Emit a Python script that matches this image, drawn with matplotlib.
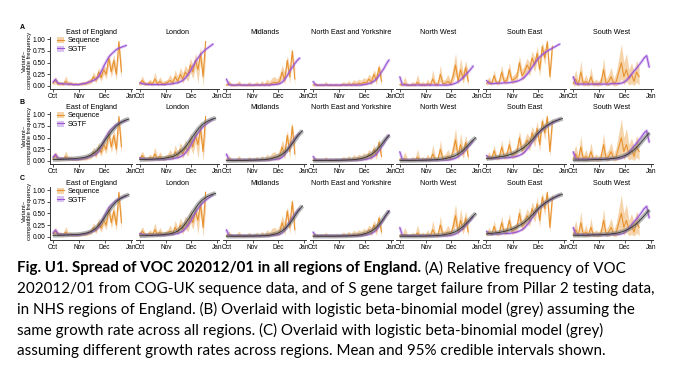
import numpy as np
import matplotlib
matplotlib.use("Agg")
import matplotlib.pyplot as plt
import matplotlib.transforms as mtransforms
from matplotlib.patches import Patch
from matplotlib.lines import Line2D

nan = np.nan

regions = ["East of England", "London", "Midlands", "North East and Yorkshire",
           "North West", "South East", "South West"]
month_ticks = [0, 31, 61, 92]
month_labels = ["Oct", "Nov", "Dec", "Jan"]
y_ticks = [0, 0.25, 0.5, 0.75, 1.0]
y_labels = ["0.00", "0.25", "0.50", "0.75", "1.00"]

# days since 1 Oct
seq_days = list(range(0, 82, 3))
seq_mean = [
    [0.06, 0.12, 0.04, 0.05, 0.03, 0.10, 0.04, 0.05, 0.03, 0.04, 0.03, 0.04, 0.05, 0.05,
     0.08, 0.10, 0.20, 0.12, 0.30, 0.18, 0.35, 0.25, 0.60, 0.30, 0.55, 0.25, 0.95, 0.30],
    [0.04, 0.12, 0.05, 0.03, 0.08, 0.04, 0.15, 0.05, 0.10, 0.04, 0.06, 0.08, 0.12, 0.07,
     0.20, 0.10, 0.25, 0.15, 0.30, 0.22, 0.45, 0.30, 0.55, 0.35, 0.70, 0.20, 0.95, nan],
    [0.02, 0.05, 0.02, 0.01, 0.02, 0.04, 0.01, 0.02, 0.01, 0.03, 0.01, 0.02, 0.03, 0.01,
     0.04, 0.02, 0.05, 0.03, 0.06, 0.08, 0.06, 0.10, 0.30, 0.12, 0.55, 0.20, 0.75, 0.15],
    [0.02, 0.03, 0.01, 0.02, 0.01, 0.03, 0.01, 0.02, 0.01, 0.02, 0.01, 0.02, 0.03, 0.02,
     0.04, 0.02, 0.05, 0.03, 0.06, 0.04, 0.08, 0.06, 0.15, 0.08, 0.25, 0.12, 0.40, 0.10],
    [0.03, 0.02, 0.05, 0.02, 0.01, 0.03, 0.02, 0.08, 0.02, 0.03, 0.02, 0.05, 0.02, 0.15,
     0.04, 0.03, 0.25, 0.05, 0.06, 0.10, 0.05, 0.20, 0.45, 0.10, 0.35, 0.15, 0.40, 0.10],
    [0.05, 0.10, 0.05, 0.22, 0.06, 0.08, 0.30, 0.10, 0.12, 0.35, 0.12, 0.15, 0.20, 0.50,
     0.22, 0.30, 0.45, 0.35, 0.60, 0.45, 0.70, 0.35, 0.85, 0.60, 0.95, 0.20, 0.85, nan],
    [0.05, 0.15, 0.03, 0.30, 0.05, 0.10, 0.04, 0.20, 0.03, 0.05, 0.04, 0.08, 0.35, 0.05,
     0.10, 0.20, 0.05, 0.10, 0.30, 0.50, 0.20, 0.35, 0.15, 0.25, 0.10, 0.30, 0.20, nan],
]
seq_lo = [
    [0.02, 0.05, 0.01, 0.02, 0.01, 0.04, 0.01, 0.02, 0.01, 0.01, 0.01, 0.02, 0.02, 0.02,
     0.04, 0.05, 0.12, 0.07, 0.20, 0.10, 0.25, 0.15, 0.45, 0.18, 0.40, 0.12, 0.70, 0.15],
    [0.01, 0.04, 0.01, 0.01, 0.03, 0.01, 0.05, 0.01, 0.03, 0.01, 0.02, 0.03, 0.05, 0.02,
     0.10, 0.04, 0.15, 0.06, 0.18, 0.10, 0.30, 0.15, 0.40, 0.05, 0.55, 0.00, 0.60, nan],
    [0.00, 0.01, 0.00, 0.00, 0.00, 0.01, 0.00, 0.00, 0.00, 0.00, 0.00, 0.00, 0.01, 0.00,
     0.01, 0.00, 0.01, 0.00, 0.02, 0.03, 0.02, 0.04, 0.15, 0.04, 0.40, 0.05, 0.60, 0.00],
    [0.00, 0.00, 0.00, 0.00, 0.00, 0.01, 0.00, 0.00, 0.00, 0.00, 0.00, 0.00, 0.01, 0.00,
     0.01, 0.00, 0.01, 0.00, 0.02, 0.01, 0.03, 0.02, 0.08, 0.02, 0.15, 0.03, 0.30, 0.00],
    [0.00, 0.00, 0.01, 0.00, 0.00, 0.00, 0.00, 0.02, 0.00, 0.00, 0.00, 0.01, 0.00, 0.05,
     0.00, 0.00, 0.10, 0.01, 0.01, 0.03, 0.01, 0.08, 0.25, 0.03, 0.20, 0.05, 0.25, 0.00],
    [0.02, 0.04, 0.02, 0.10, 0.02, 0.03, 0.15, 0.04, 0.05, 0.20, 0.05, 0.07, 0.10, 0.35,
     0.12, 0.18, 0.30, 0.22, 0.45, 0.30, 0.55, 0.20, 0.70, 0.45, 0.85, 0.08, 0.70, nan],
    [0.00, 0.02, 0.00, 0.05, 0.00, 0.01, 0.00, 0.03, 0.00, 0.00, 0.00, 0.01, 0.08, 0.00,
     0.01, 0.04, 0.00, 0.01, 0.05, 0.15, 0.03, 0.10, 0.02, 0.05, 0.01, 0.08, 0.02, nan],
]
seq_hi = [
    [0.12, 0.20, 0.10, 0.10, 0.08, 0.22, 0.10, 0.10, 0.08, 0.08, 0.07, 0.08, 0.10, 0.10,
     0.14, 0.17, 0.30, 0.20, 0.40, 0.28, 0.45, 0.38, 0.70, 0.45, 0.68, 0.40, 1.00, 0.50],
    [0.10, 0.22, 0.10, 0.08, 0.15, 0.10, 0.30, 0.10, 0.20, 0.10, 0.12, 0.15, 0.25, 0.14,
     0.35, 0.20, 0.40, 0.28, 0.45, 0.35, 0.60, 0.45, 0.70, 0.50, 0.85, 0.40, 1.00, nan],
    [0.06, 0.12, 0.06, 0.04, 0.06, 0.12, 0.04, 0.06, 0.04, 0.10, 0.04, 0.06, 0.10, 0.04,
     0.12, 0.06, 0.15, 0.10, 0.18, 0.20, 0.15, 0.25, 0.45, 0.30, 0.65, 0.40, 0.82, 0.40],
    [0.06, 0.08, 0.04, 0.06, 0.04, 0.10, 0.04, 0.06, 0.04, 0.06, 0.04, 0.06, 0.10, 0.06,
     0.12, 0.07, 0.14, 0.10, 0.15, 0.12, 0.18, 0.15, 0.25, 0.20, 0.35, 0.25, 0.48, 0.30],
    [0.08, 0.06, 0.20, 0.06, 0.04, 0.10, 0.06, 0.25, 0.06, 0.10, 0.06, 0.15, 0.06, 0.35,
     0.10, 0.08, 0.45, 0.12, 0.15, 0.25, 0.12, 0.40, 0.70, 0.25, 0.60, 0.30, 0.55, 0.30],
    [0.10, 0.20, 0.10, 0.35, 0.12, 0.15, 0.45, 0.18, 0.22, 0.50, 0.20, 0.25, 0.32, 0.65,
     0.35, 0.45, 0.60, 0.50, 0.75, 0.60, 0.85, 0.50, 0.95, 0.75, 1.00, 0.35, 0.95, nan],
    [0.15, 0.35, 0.10, 0.55, 0.12, 0.25, 0.10, 0.40, 0.10, 0.15, 0.10, 0.20, 0.60, 0.15,
     0.25, 0.40, 0.15, 0.30, 0.60, 0.90, 0.50, 0.70, 0.35, 0.50, 0.30, 0.55, 0.40, nan],
]

sgtf_days = list(range(0, 91, 3))
sgtf_mean = [
    [0.08, 0.14, 0.06, 0.05, 0.05, 0.04, 0.04, 0.04, 0.03, 0.03, 0.03, 0.04, 0.05, 0.06, 0.08, 0.10,
     0.12, 0.15, 0.20, 0.30, 0.42, 0.52, 0.62, 0.68, 0.73, 0.78, 0.81, 0.83, 0.85, 0.87, nan],
    [0.07, 0.05, 0.04, 0.04, 0.03, 0.03, 0.03, 0.03, 0.03, 0.03, 0.03, 0.04, 0.04, 0.05, 0.06, 0.07,
     0.09, 0.12, 0.17, 0.24, 0.32, 0.42, 0.52, 0.60, 0.67, 0.73, 0.78, 0.82, 0.86, 0.90, nan],
    [0.15, 0.03, 0.02, 0.02, 0.02, 0.02, 0.02, 0.02, 0.02, 0.02, 0.02, 0.02, 0.02, 0.02, 0.02, 0.02,
     0.02, 0.02, 0.03, 0.03, 0.04, 0.05, 0.08, 0.14, 0.22, 0.32, 0.40, 0.48, 0.55, 0.60, nan],
    [0.10, 0.02, 0.02, 0.02, 0.02, 0.02, 0.02, 0.02, 0.02, 0.02, 0.02, 0.02, 0.02, 0.02, 0.02, 0.02,
     0.02, 0.02, 0.02, 0.02, 0.03, 0.04, 0.05, 0.07, 0.10, 0.15, 0.22, 0.30, 0.38, 0.48, 0.56],
    [0.20, 0.03, 0.02, 0.02, 0.02, 0.02, 0.02, 0.02, 0.02, 0.02, 0.02, 0.02, 0.02, 0.02, 0.02, 0.02,
     0.02, 0.02, 0.02, 0.02, 0.03, 0.04, 0.06, 0.09, 0.13, 0.18, 0.24, 0.30, 0.36, 0.43, nan],
    [0.12, 0.06, 0.05, 0.05, 0.06, 0.06, 0.06, 0.07, 0.07, 0.07, 0.08, 0.09, 0.10, 0.12, 0.15, 0.19,
     0.25, 0.32, 0.40, 0.48, 0.56, 0.62, 0.67, 0.71, 0.75, 0.78, 0.81, 0.84, 0.87, 0.90, nan],
    [0.20, 0.05, 0.04, 0.04, 0.04, 0.04, 0.04, 0.04, 0.04, 0.04, 0.04, 0.04, 0.04, 0.04, 0.04, 0.05,
     0.05, 0.05, 0.05, 0.06, 0.08, 0.12, 0.18, 0.25, 0.32, 0.38, 0.45, 0.52, 0.60, 0.65, 0.40],
]

model_days = list(range(0, 91, 5))
# (B) common growth rate
model_b = [
    [0.03, 0.03, 0.035, 0.04, 0.045, 0.05, 0.06, 0.07, 0.09, 0.13, 0.19, 0.28, 0.40, 0.53, 0.65, 0.75, 0.82, 0.87, 0.90],
    [0.03, 0.03, 0.035, 0.04, 0.045, 0.05, 0.06, 0.08, 0.10, 0.15, 0.22, 0.32, 0.45, 0.58, 0.70, 0.79, 0.85, 0.89, 0.92],
    [0.01, 0.01, 0.01, 0.012, 0.013, 0.015, 0.018, 0.02, 0.025, 0.03, 0.04, 0.06, 0.09, 0.13, 0.20, 0.30, 0.42, 0.55, 0.65],
    [0.01, 0.01, 0.01, 0.01, 0.012, 0.013, 0.015, 0.017, 0.02, 0.025, 0.03, 0.045, 0.065, 0.10, 0.15, 0.23, 0.33, 0.45, 0.55],
    [0.01, 0.01, 0.01, 0.012, 0.013, 0.015, 0.018, 0.02, 0.025, 0.03, 0.04, 0.055, 0.08, 0.11, 0.16, 0.23, 0.32, 0.42, 0.50],
    [0.05, 0.06, 0.07, 0.09, 0.10, 0.12, 0.15, 0.19, 0.24, 0.30, 0.38, 0.47, 0.58, 0.67, 0.74, 0.80, 0.85, 0.88, 0.91],
    [0.02, 0.02, 0.02, 0.02, 0.025, 0.03, 0.03, 0.035, 0.04, 0.05, 0.06, 0.08, 0.11, 0.15, 0.21, 0.29, 0.39, 0.50, 0.60],
]
# (C) region-specific growth rates
model_c = [
    [0.03, 0.03, 0.03, 0.035, 0.04, 0.045, 0.05, 0.06, 0.08, 0.11, 0.17, 0.26, 0.38, 0.52, 0.65, 0.75, 0.82, 0.87, 0.90],
    [0.02, 0.02, 0.025, 0.03, 0.035, 0.04, 0.05, 0.06, 0.08, 0.12, 0.19, 0.30, 0.44, 0.58, 0.71, 0.80, 0.86, 0.90, 0.93],
    [0.01, 0.01, 0.01, 0.01, 0.01, 0.012, 0.013, 0.015, 0.018, 0.022, 0.03, 0.045, 0.07, 0.11, 0.18, 0.28, 0.41, 0.55, 0.66],
    [0.01, 0.01, 0.01, 0.01, 0.01, 0.01, 0.012, 0.013, 0.015, 0.02, 0.025, 0.035, 0.055, 0.085, 0.13, 0.20, 0.30, 0.43, 0.55],
    [0.01, 0.01, 0.01, 0.01, 0.01, 0.012, 0.013, 0.015, 0.02, 0.025, 0.035, 0.05, 0.07, 0.10, 0.15, 0.22, 0.31, 0.41, 0.50],
    [0.06, 0.07, 0.08, 0.09, 0.11, 0.13, 0.16, 0.20, 0.25, 0.31, 0.39, 0.48, 0.58, 0.66, 0.73, 0.79, 0.84, 0.88, 0.91],
    [0.03, 0.03, 0.03, 0.03, 0.035, 0.04, 0.04, 0.045, 0.05, 0.06, 0.07, 0.09, 0.12, 0.16, 0.21, 0.28, 0.37, 0.47, 0.57],
]

row_letters = ["A", "B", "C"]
caption_bold = "Fig. U1. Spread of VOC 202012/01 in all regions of England."
caption_lines = [
    " (A) Relative frequency of VOC",
    "202012/01 from COG-UK sequence data, and of S gene target failure from Pillar 2 testing data,",
    "in NHS regions of England. (B) Overlaid with logistic beta-binomial model (grey) assuming the",
    "same growth rate across all regions. (C) Overlaid with logistic beta-binomial model (grey)",
    "assuming different growth rates across regions. Mean and 95% credible intervals shown.",
]

ORANGE = "#E8922E"
PURPLE = "#9A55D6"
GREY = "#7a7a7a"
small = "Liberation Sans"

W, H = 680, 369
fig = plt.figure(figsize=(W / 100, H / 100), dpi=100)

row_bottom_px = [88.8, 163.8, 239.5]
ax_h_px = 52.3
ax_w_px = 82.8
col_left_px = [49.6 + 86.7 * i for i in range(7)]
title_px = [33.0, 107.5, 183.5]
letter_px = [27.5, 102.5, 178.5]

for r in range(3):
    for c, name in enumerate(regions):
        ax = fig.add_axes([col_left_px[c] / W, 1 - row_bottom_px[r] / H, ax_w_px / W, ax_h_px / H])
        ax.fill_between(seq_days, seq_lo[c], seq_hi[c], color=ORANGE, alpha=0.4, lw=0)
        ax.plot(seq_days, seq_mean[c], color=ORANGE, lw=0.8)
        ax.plot(sgtf_days, sgtf_mean[c], color=PURPLE, lw=2.2, alpha=0.3, solid_capstyle="butt")
        ax.plot(sgtf_days, sgtf_mean[c], color=PURPLE, lw=0.8)
        if r > 0:
            m = model_b[c] if r == 1 else model_c[c]
            ax.plot(model_days, m, color=GREY, lw=3.2, alpha=0.55, solid_capstyle="butt")
            ax.plot(model_days, m, color="#333333", lw=0.6)
        ax.set_xlim(-4, 94)
        ax.set_ylim(-0.06, 1.06)
        ax.set_xticks(month_ticks)
        ax.set_xticklabels(month_labels, fontsize=4.7, family=small)
        # nudge the end labels apart so neighbouring panels' Jan/Oct just touch
        xl = ax.get_xticklabels()
        xl[0].set_transform(xl[0].get_transform() + mtransforms.ScaledTranslation(1 / 100, 0, fig.dpi_scale_trans))
        xl[-1].set_transform(xl[-1].get_transform() + mtransforms.ScaledTranslation(-1.2 / 100, 0, fig.dpi_scale_trans))
        for s in ["top", "right"]:
            ax.spines[s].set_visible(False)
        ax.spines["bottom"].set_color("#333333")
        ax.spines["bottom"].set_linewidth(0.7)
        ax.tick_params(axis="x", length=2, width=0.6, pad=1, colors="#333333", labelcolor="black")
        if c == 0:
            ax.spines["left"].set_color("#333333")
            ax.spines["left"].set_linewidth(0.7)
            ax.set_yticks(y_ticks)
            ax.set_yticklabels(y_labels, fontsize=4.8, family=small)
            ax.tick_params(axis="y", length=2, width=0.6, pad=1, colors="#333333", labelcolor="black")
            handles = [(Patch(facecolor=ORANGE, alpha=0.4, lw=0), Line2D([], [], color=ORANGE, lw=0.8)),
                       (Patch(facecolor=PURPLE, alpha=0.35, lw=0), Line2D([], [], color=PURPLE, lw=0.8))]
            ax.legend(handles, ["Sequence", "SGTF"], loc="upper left", bbox_to_anchor=(0.04, 1.06),
                      frameon=False, prop={"family": small, "size": 5.2}, handlelength=1.0,
                      handleheight=0.9, borderpad=0, labelspacing=0.15, handletextpad=0.5)
        else:
            ax.spines["left"].set_visible(False)
            ax.set_yticks([])
        ax.text(0.5, 1 + (row_bottom_px[r] - ax_h_px - title_px[r]) / ax_h_px, name,
                transform=ax.transAxes, ha="center", va="center", fontsize=5.2, family=small)

    yc = 1 - (row_bottom_px[r] - ax_h_px / 2 - 2) / H
    fig.text(27 / W, yc, "Variant–\ncompatible frequency", rotation=90, ha="center", va="center",
             fontsize=4.3, family=small, linespacing=1.05)
    fig.text(20 / W, 1 - letter_px[r] / H, row_letters[r], fontsize=5, family=small,
             fontweight="bold", ha="left", va="center")

# caption
cap_font = "Lato"
line_y_px = [268, 289, 309.5, 330, 350.5]
x0 = 17 / W
renderer = fig.canvas.get_renderer()
probe = fig.text(x0, 0, caption_lines[1], fontsize=12, family=cap_font)
w = probe.get_window_extent(renderer).width
probe.remove()
cap_size = 12 * 632 / w

t_bold = fig.text(x0, 1 - line_y_px[0] / H, caption_bold, fontsize=cap_size, family=cap_font,
                  fontweight="bold", va="center", ha="left")
bw = t_bold.get_window_extent(renderer).width
fig.text(x0 + bw / W, 1 - line_y_px[0] / H, caption_lines[0], fontsize=cap_size, family=cap_font,
         va="center", ha="left")
for i in range(1, 5):
    fig.text(x0, 1 - line_y_px[i] / H, caption_lines[i], fontsize=cap_size, family=cap_font,
             va="center", ha="left")

fig.savefig("out.png", dpi=100)
